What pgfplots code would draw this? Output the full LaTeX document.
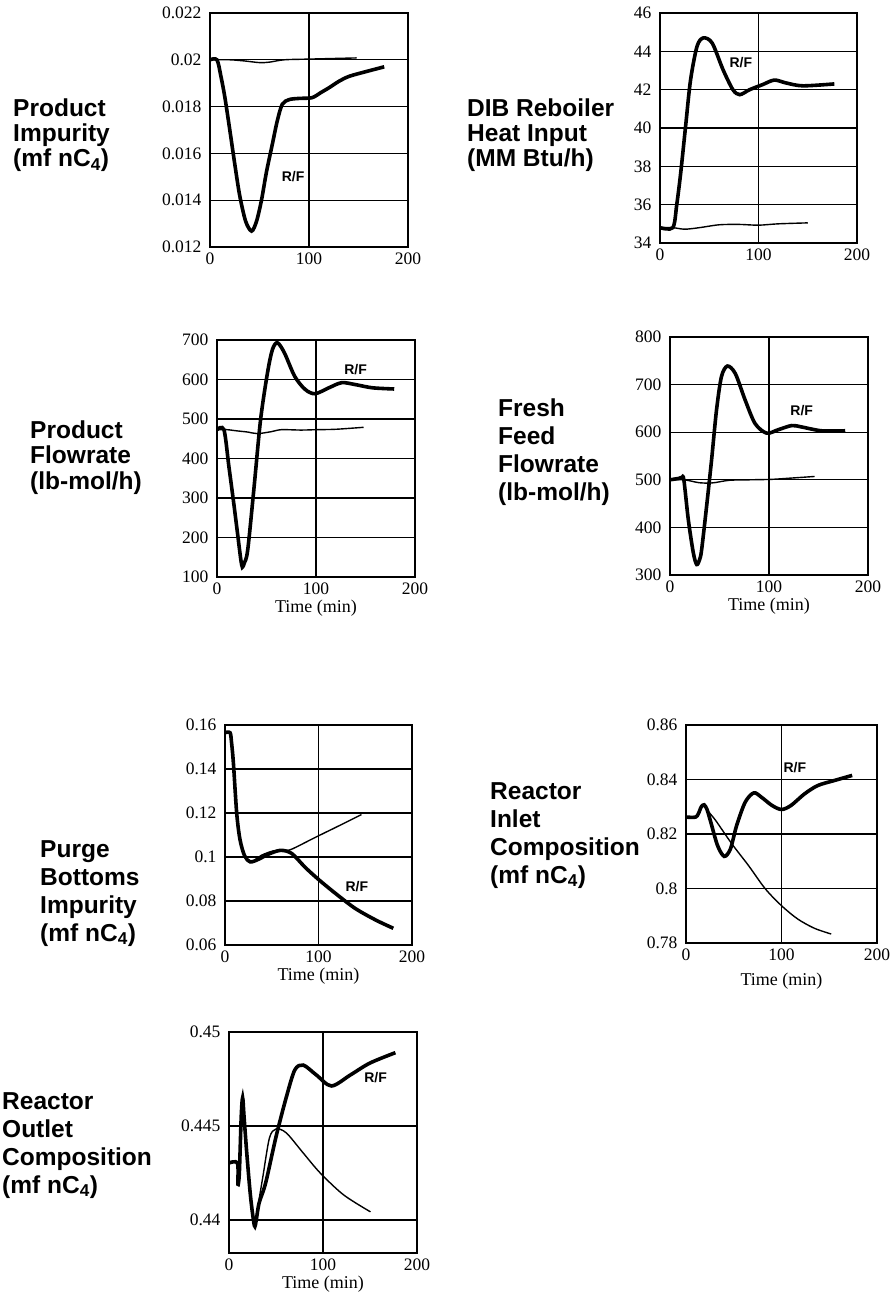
\documentclass[border=0pt]{standalone}
\usepackage{fontspec}
\setmainfont{Liberation Serif}
\newfontfamily\labfont{Liberation Sans}
\usepackage{pgfplots}
\pgfplotsset{compat=1.18}
\pgfplotsset{
  myax/.style={
    scale only axis, anchor=south west, xmin=0, xmax=200, xtick={0,100,200},
    axis line style={line width=1.6pt},
    grid=major, grid style={line width=1.3pt, black},
    major tick length=0pt,
    tick label style={font=\fontsize{17.5}{17.5}\selectfont},
    /pgf/number format/assume math mode=true,
    scaled y ticks=false,
    yticklabel style={/pgf/number format/fixed, /pgf/number format/precision=3, xshift=-5pt},
    xticklabel style={yshift=-2pt},
    xlabel style={font=\fontsize{18}{18}\selectfont, yshift=1pt},
  },
  thk/.style={black, line width=3.6pt, smooth, tension=0.5, no marks},
  thn/.style={black, line width=1.4pt, smooth, tension=0.5, no marks},
}
\newcommand{\lab}{\labfont\bfseries\fontsize{24.5}{26}\selectfont}
\newcommand{\rf}{\labfont\bfseries\fontsize{14}{14}\selectfont}
\begin{document}
\begin{tikzpicture}
\useasboundingbox (0pt,0pt) rectangle (895pt,-1300pt);
% ---------- labels ----------
\begin{scope}[every node/.style={anchor=base west, inner sep=0pt, font=\lab}]
\node at (13pt,-117pt) {Product};
\node at (13pt,-142pt) {Impurity};
\node at (13pt,-167pt) {(mf nC\textsubscript{4})};
\node at (467pt,-117pt) {DIB Reboiler};
\node at (467pt,-142pt) {Heat Input};
\node at (467pt,-167pt) {(MM Btu/h)};
\node at (30pt,-438pt) {Product};
\node at (30pt,-463pt) {Flowrate};
\node at (30pt,-489pt) {(lb-mol/h)};
\node at (498pt,-416pt) {Fresh};
\node at (498pt,-444pt) {Feed};
\node at (498pt,-472pt) {Flowrate};
\node at (498pt,-500pt) {(lb-mol/h)};
\node at (40pt,-857pt) {Purge};
\node at (40pt,-885pt) {Bottoms};
\node at (40pt,-913pt) {Impurity};
\node at (40pt,-941pt) {(mf nC\textsubscript{4})};
\node at (490pt,-799pt) {Reactor};
\node at (490pt,-827pt) {Inlet};
\node at (490pt,-855pt) {Composition};
\node at (490pt,-883pt) {(mf nC\textsubscript{4})};
\node at (2pt,-1109pt) {Reactor};
\node at (2pt,-1137pt) {Outlet};
\node at (2pt,-1165pt) {Composition};
\node at (2pt,-1193pt) {(mf nC\textsubscript{4})};
\end{scope}
% ---------- P1 Product Impurity ----------
\begin{axis}[myax, at={(210pt,-247pt)}, width=198pt, height=234pt,
  ymin=0.012, ymax=0.022, ytick={0.012,0.014,0.016,0.018,0.02,0.022}]
\addplot[thn] coordinates {(0,0.0200)(20,0.0200)(35,0.01995)(50,0.01988)(60,0.0199)(75,0.0200)(100,0.02003)(148,0.02008)};
\addplot[thk] coordinates {(0,0.0200)(7,0.0200)(11,0.0193)(15,0.0184)(20,0.0170)(25,0.01555)(30,0.0142)(36,0.0131)(42,0.01268)(47,0.0131)(52,0.0140)(57,0.0152)(63,0.0164)(68,0.0174)(73,0.0181)(80,0.0183)(90,0.01835)(103,0.01838)(112,0.0186)(120,0.0188)(131,0.0191)(141,0.0193)(158,0.0195)(176,0.0197)};
\node[font=\rf] at (axis cs:84,0.0150) {R/F};
\end{axis}
% ---------- P2 DIB Reboiler ----------
\begin{axis}[myax, at={(660pt,-243pt)}, width=197pt, height=230pt,
  ymin=34, ymax=46, ytick={34,36,38,40,42,44,46}]
\addplot[thn] coordinates {(0,34.8)(13,34.8)(25,34.72)(40,34.8)(60,34.95)(80,34.97)(100,34.93)(120,35.0)(150,35.05)};
\addplot[thk] coordinates {(0,34.8)(13,34.8)(17,36.0)(21,37.65)(26,40.1)(31,42.5)(37.6,44.26)(44,44.7)(53,44.43)(64,43.04)(74,42.0)(81,41.74)(91,42.0)(104,42.26)(116,42.5)(128,42.35)(145,42.2)(177,42.3)};
\node[font=\rf] at (axis cs:82,43.4) {R/F};
\end{axis}
% ---------- P3 Product Flowrate ----------
\begin{axis}[myax, at={(217pt,-577pt)}, width=198pt, height=237pt,
  ymin=100, ymax=700, ytick={100,200,300,400,500,600,700}, xlabel={Time (min)}]
\addplot[thn] coordinates {(0,473)(10,473)(20,470)(31,467)(41,463)(55,468)(65,473)(85,472)(100,473)(120,474)(148,479)};
\addplot[thk] coordinates {(0,473)(7,473)(12,380)(17,285)(21,205)(24,145)(25.6,125)(27.5,135)(31,168)(37.5,329)(44,498)(51,617)(56,676)(61,693)(68,668)(78.5,608)(89,575)(99,564)(113,579)(126,592)(140,587)(157,579)(179,576)};
\node[font=\rf] at (axis cs:140,625) {R/F};
\end{axis}
% ---------- P4 Fresh Feed ----------
\begin{axis}[myax, at={(670pt,-575pt)}, width=198pt, height=238pt,
  ymin=300, ymax=800, ytick={300,400,500,600,700,800}, xlabel={Time (min)}]
\addplot[thn] coordinates {(0,500)(14,500)(22,497)(29,494)(38,493)(45,494)(60,499)(80,500)(103,501)(125,504)(146,507)};
\addplot[thk] coordinates {(0,500)(9,503)(12,505)(14,500)(18.5,416)(23.6,346)(27,322)(30,333)(32,354)(37,445)(42,542)(47,647)(52,717)(58,739)(66,723)(76,667)(86,618)(97.6,598)(109,605)(123,614)(133,611)(153,603)(177,603)};
\node[font=\rf] at (axis cs:133,645) {R/F};
\end{axis}
% ---------- P5 Purge Bottoms ----------
\begin{axis}[myax, at={(225pt,-945pt)}, width=187pt, height=220pt,
  ymin=0.06, ymax=0.16, ytick={0.06,0.08,0.1,0.12,0.14,0.16}, xlabel={Time (min)}]
\addplot[thn] coordinates {(0,0.1565)(5.4,0.1565)(7,0.152)(9,0.1426)(12.5,0.12)(16,0.108)(21,0.1005)(27,0.0975)(39,0.1008)(52,0.1028)(61,0.1028)(71,0.1035)(96,0.1088)(121,0.114)(146,0.1193)};
\addplot[thk] coordinates {(0,0.1565)(5.4,0.1565)(7,0.152)(9,0.1426)(12.5,0.12)(16,0.108)(21,0.1005)(27,0.0978)(36,0.099)(46,0.1012)(59,0.103)(71,0.1017)(86,0.0952)(100,0.0898)(118,0.0835)(139,0.0767)(161,0.0714)(180,0.0676)};
\node[font=\rf] at (axis cs:141,0.0865) {R/F};
\end{axis}
% ---------- P6 Reactor Inlet ----------
\begin{axis}[myax, at={(686pt,-943pt)}, width=191pt, height=218pt,
  ymin=0.78, ymax=0.86, ytick={0.78,0.8,0.82,0.84,0.86}, xlabel={Time (min)},
  xlabel style={yshift=-7pt}]
\addplot[thn] coordinates {(0,0.8262)(10,0.8262)(13,0.8275)(16,0.830)(19,0.8307)(24,0.828)(31,0.825)(48,0.8164)(65.5,0.8084)(83,0.7999)(100,0.7937)(117,0.7888)(134.5,0.7854)(152,0.7833)};
\addplot[thk] coordinates {(0,0.8262)(10,0.8262)(13,0.8275)(16,0.830)(19,0.8307)(22,0.829)(26,0.8243)(33,0.8158)(40,0.8118)(46.5,0.8145)(53,0.8231)(62,0.8317)(71,0.8351)(79,0.8335)(90,0.8305)(100,0.829)(110,0.8305)(124,0.8347)(138,0.8378)(155,0.8396)(174,0.8415)};
\node[font=\rf] at (axis cs:114,0.8445) {R/F};
\end{axis}
% ---------- P7 Reactor Outlet ----------
\begin{axis}[myax, at={(229pt,-1253pt)}, width=188pt, height=221pt,
  ymin=0.43824, ymax=0.45, ytick={0.44,0.445,0.45}, xlabel={Time (min)}]
\addplot[thn] coordinates {(0,0.44303)(9,0.44303)(9.5,0.4419)(11,0.4425)(13,0.4455)(14.5,0.4465)(16,0.4455)(19,0.4435)(23,0.4412)(27,0.4397)(29,0.4402)(32,0.4411)(36,0.44229)(43,0.44436)(50,0.44484)(61,0.44463)(79,0.44356)(97,0.4425)(122,0.44133)(150.5,0.44043)};
\addplot[thk] coordinates {(0,0.44303)(9,0.44303)(9.5,0.4419)(11,0.4425)(13,0.4455)(14.5,0.4465)(16,0.4455)(19,0.4435)(23,0.4412)(27,0.4397)(29,0.4400)(32,0.4409)(39,0.44197)(50,0.44442)(61,0.44654)(70,0.44798)(79,0.44824)(93,0.44771)(109,0.44713)(129,0.44771)(150,0.44835)(177,0.4489)};
\node[font=\rf] at (axis cs:156,0.4476) {R/F};
\end{axis}
\end{tikzpicture}
\end{document}
